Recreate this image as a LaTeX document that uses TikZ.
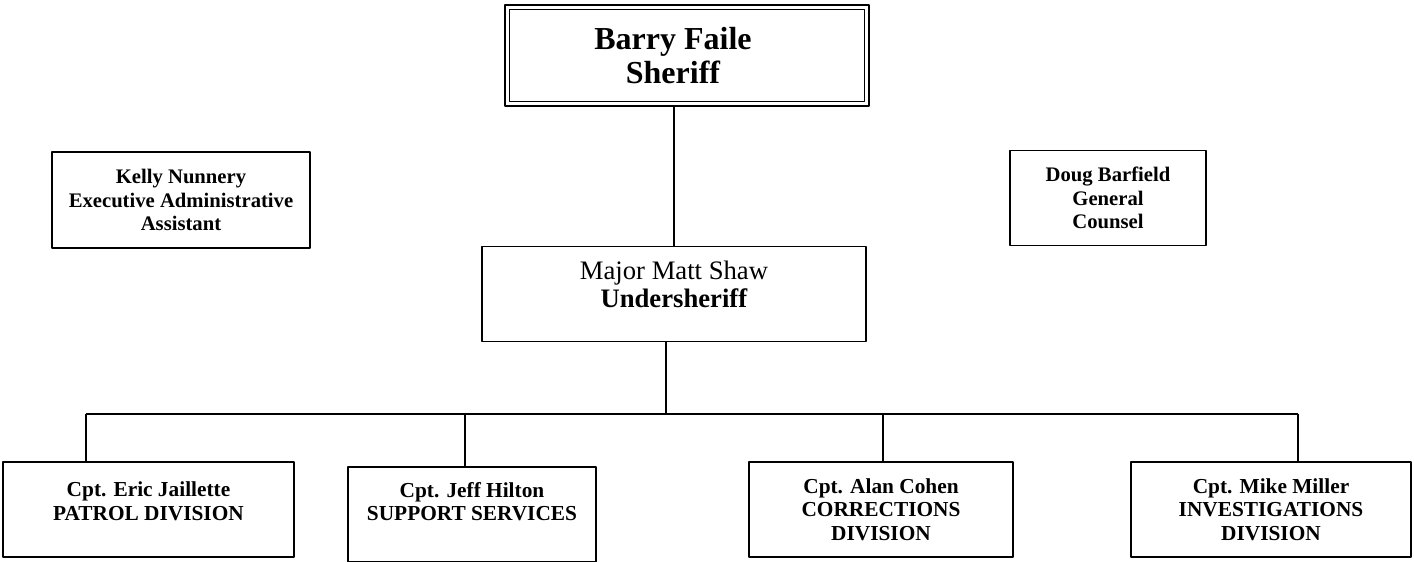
\documentclass[tikz,border=0pt]{standalone}
\usepackage{fontspec}
\setmainfont{Liberation Serif}
\tikzset{
  post/.style={draw, line width=1.3pt, align=center, inner sep=0pt,
    font=\bfseries\fontsize{15.5}{17.5}\selectfont},
  cpt/.style={post, minimum height=71.25pt, font=\bfseries\fontsize{16}{17.5}\selectfont},
  link/.style={line width=1.3pt}
}
\begin{document}
\begin{tikzpicture}[x=0.75pt, y=-0.75pt, line join=round]
		\useasboundingbox (0,0) rectangle (1414,561);
		% top
		\node[post, line width=1.9pt, minimum width=273pt, minimum height=75.75pt,
			font=\bfseries\fontsize{24}{26}\selectfont] (sheriff) at (687,55.5) {Barry Faile\hspace*{21pt}\\Sheriff\hspace*{21pt}};
		\draw[line width=1.1pt] ([shift={(4.4pt,-4.2pt)}]sheriff.north west) rectangle ([shift={(-4.4pt,4.2pt)}]sheriff.south east);
		\node[post, minimum width=193.5pt, minimum height=72pt] (kelly) at (181,200) {Kelly Nunnery\\Executive Administrative\\Assistant};
		\node[post, minimum width=147pt, minimum height=71.25pt] (doug) at (1108,198) {Doug Barfield\\General\\Counsel};
		\node[post, minimum width=288pt, minimum height=71.25pt,
			font=\fontsize{20}{21}\selectfont] (major) at (674,294) {Major Matt Shaw\\\textbf{Undersheriff}\\[-6pt]\mbox{}};
		% captains
		\node[cpt, minimum width=218.25pt] (eric) at (148.5,509.5) {Cpt. Eric Jaillette\\PATROL DIVISION\\[-4.7pt]\mbox{}};
		\node[cpt, minimum width=186pt] (jeff) at (472,514.5) {Cpt. Jeff Hilton\\SUPPORT SERVICES\\[2.5pt]\mbox{}};
		\node[cpt, minimum width=198pt] (alan) at (881,509.5) {Cpt. Alan Cohen\\CORRECTIONS\\DIVISION};
		\node[cpt, minimum width=210pt] (mike) at (1271,509.5) {Cpt. Mike Miller\\INVESTIGATIONS\\DIVISION};
		% lines
		\coordinate (b0) at (666,414);
		\coordinate (b1) at (86,414);
		\coordinate (b2) at (465,414);
		\coordinate (b3) at (883,414);
		\coordinate (b4) at (1298,414);
		\draw[link] (major.north) -- (major.north |- sheriff.south);
		\draw[link] (major.south -| b0) -- (b0);
		\draw[link] (b1) -- (b4);
		\foreach \b/\n in {b1/eric,b2/jeff,b3/alan,b4/mike}
			\draw[link] (\b) -- (\b |- \n.north);
\end{tikzpicture}
\end{document}
